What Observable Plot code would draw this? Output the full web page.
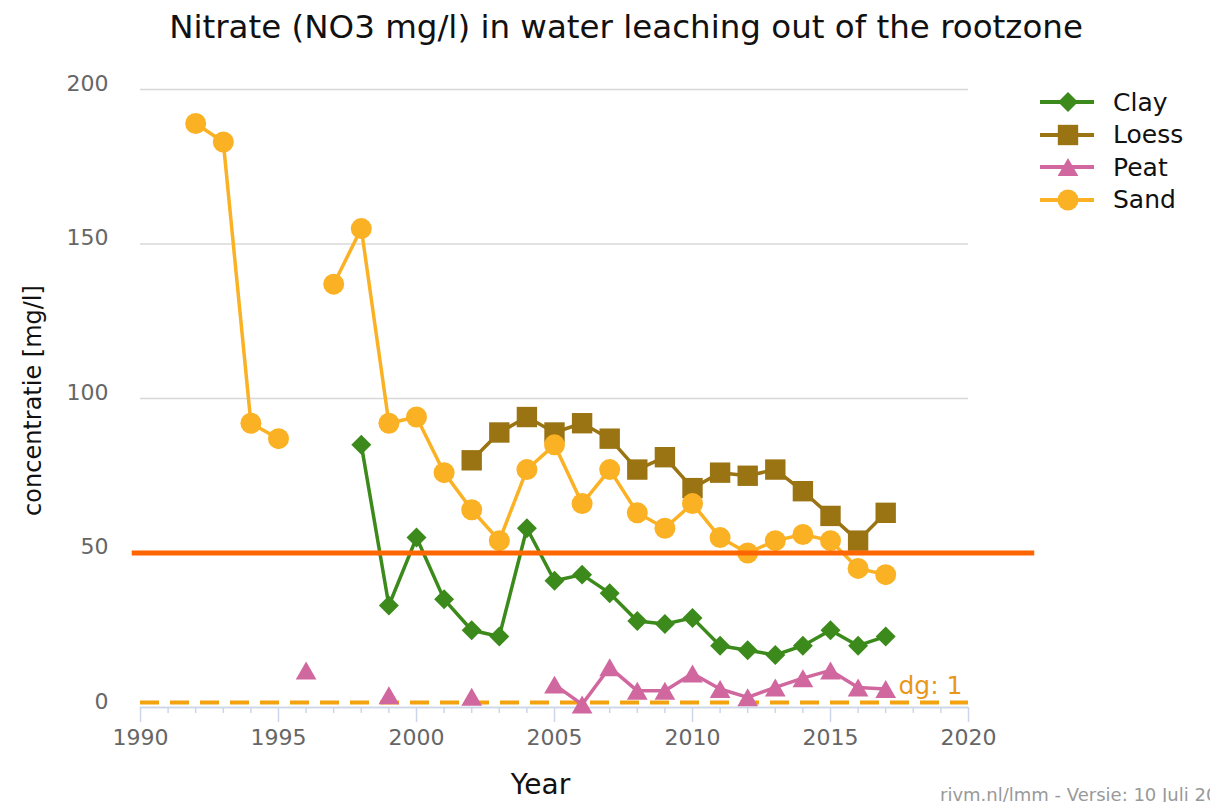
<!DOCTYPE html>
<html>
<head>
<meta charset="utf-8">
<script src="https://cdn.jsdelivr.net/npm/d3@7"></script>
<script src="https://cdn.jsdelivr.net/npm/@observablehq/plot@0.6"></script>
<style>
  html, body { margin: 0; padding: 0; background: #fff; }
  body { width: 1210px; height: 802px; overflow: hidden; position: relative; font-family: "DejaVu Sans", Verdana, sans-serif; }
  #title { position: absolute; left: 0; top: 7px; width: 1252px; text-align: center; font-size: 32.5px; color: #111; white-space: nowrap; line-height: 40px; }
  #chart { position: absolute; left: 0; top: 55px; }
  #legend { position: absolute; left: 1038px; top: 86px; }
  .row { display: flex; align-items: center; height: 32.5px; }
  .row span { font-size: 25px; color: #111; margin-left: 17px; }
  #credits { position: absolute; left: 940px; top: 784px; font-size: 18px; color: #999; white-space: nowrap; }
</style>
</head>
<body>
<div id="title">Nitrate (NO3 mg/l) in water leaching out of the rootzone</div>
<div id="chart"></div>
<div id="legend"></div>
<div id="credits">rivm.nl/lmm - Versie: 10 Juli 2019</div>
<script>
// ---- data ----
const years = [1992,1993,1994,1995,1996,1997,1998,1999,2000,2001,2002,2003,2004,2005,2006,2007,2008,2009,2010,2011,2012,2013,2014,2015,2016,2017];
const clay  = [null,null,null,null,null,null,85,33,55,35,25,23,58,41,43,37,28,27,29,20,18.5,17,20,25,20,23];
const loess = [null,null,null,null,null,null,null,null,null,null,80,89,94,89,92,87,77,81,71,76,75,77,70,62,54,63];
const peat  = [null,null,null,null,12,null,null,4,null,null,3.5,null,null,7.4,1,13,5.4,5.4,11,6,3.3,6.5,9.5,12,6.5,6];
const sand  = [189,183,92,87,null,137,155,92,94,76,64,54,77,85,66,77,63,58,66,55,50,54,56,54,45,43];
const seriesNames = ["Clay","Loess","Peat","Sand"];
const seriesColors = ["#3b8a1b","#9a7313","#d0689f","#fbb124"];
const seriesSymbols = ["diamond2","square","triangle","circle"];
const yTicks = [0,50,100,150,200];
const xMajorTicks = [1990,1995,2000,2005,2010,2015,2020];
const xMinorTicks = [1991,1992,1993,1994,1996,1997,1998,1999,2001,2002,2003,2004,2006,2007,2008,2009,2011,2012,2013,2014,2016,2017,2018,2019];
const limitValue = 50;          // norm line
const limitSpan = [1989.7, 2022.4];
const dgValue = 1;              // detection limit
const dgLabel = "dg: 1";

// ---- styling per series ----
const symR = {diamond2: 9, square: 11.5, triangle: 7.7, circle: 10.5};
const symDy = {diamond2: 0, square: 0, triangle: 3, circle: 0};
const seriesValues = [clay, loess, peat, sand];

const rowsFor = (vals) => years.map((yr, i) => ({year: yr, value: vals[i]}));

const seriesMarks = seriesNames.flatMap((name, k) => {
  const rows = rowsFor(seriesValues[k]);
  const sym = seriesSymbols[k];
  return [
    Plot.line(rows, {x: "year", y: "value", stroke: seriesColors[k], strokeWidth: 3.5, curve: "linear"}),
    Plot.dot(rows.filter(d => d.value != null), {x: "year", y: "value", symbol: sym, r: symR[sym], fill: seriesColors[k], dy: symDy[sym]})
  ];
});

const chart = Plot.plot({
  width: 1210,
  height: 747,
  marginTop: 34,
  marginBottom: 95,
  marginLeft: 140,
  marginRight: 242,
  x: {domain: [1990, 2020]},
  y: {domain: [0, 200]},
  style: {fontFamily: "'DejaVu Sans', Verdana, sans-serif", background: "white", overflow: "visible"},
  marks: [
    Plot.gridY(yTicks, {stroke: "#d8d8d8", strokeOpacity: 1, strokeWidth: 1.5}),
    Plot.axisY(yTicks, {tickSize: 0, tickPadding: 32, fontSize: 22, fill: "#666", dy: -6, label: null}),
    Plot.axisX(xMinorTicks, {tickSize: 6, stroke: "#ccd6eb", strokeWidth: 1.5, tickFormat: () => "", label: null}),
    Plot.axisX(xMajorTicks, {tickSize: 15, tickPadding: 7, stroke: "#ccd6eb", strokeWidth: 1.5, fill: "#666", fontSize: 22, tickFormat: d => String(d), label: null}),
    Plot.ruleY([0], {stroke: "#ccd6eb", strokeWidth: 1.5}),
    Plot.ruleY([dgValue], {x1: 1990, x2: 2020, dy: -2, stroke: "#f2a30f", strokeWidth: 4, strokeDasharray: "19,11"}),
    ...seriesMarks,
    Plot.text([dgLabel], {x: 2020, y: dgValue, textAnchor: "end", dx: -6, dy: -18, fontSize: 25, fill: "#e8971a"}),
    Plot.ruleY([limitValue], {x1: limitSpan[0], x2: limitSpan[1], stroke: "#ff6600", strokeWidth: 5}),
    Plot.text(["Year"], {frameAnchor: "bottom", textAnchor: "middle", lineAnchor: "middle", dx: -14, dy: 78, fontSize: 28, fill: "#111"}),
    Plot.text(["concentratie [mg/l]"], {frameAnchor: "left", textAnchor: "middle", lineAnchor: "middle", rotate: -90, dx: -107, dy: 2, fontSize: 24, fill: "#111"})
  ]
});
document.getElementById("chart").appendChild(chart);

// ---- legend ----
const legend = d3.select("#legend");
seriesNames.forEach((name, k) => {
  const row = legend.append("div").attr("class", "row");
  const svg = row.append("svg").attr("width", 58).attr("height", 30);
  svg.append("line").attr("x1", 2).attr("x2", 56).attr("y1", 15).attr("y2", 15)
    .attr("stroke", seriesColors[k]).attr("stroke-width", 4);
  const sym = seriesSymbols[k];
  const type = {diamond2: d3.symbolDiamond2, square: d3.symbolSquare, triangle: d3.symbolTriangle, circle: d3.symbolCircle}[sym];
  const r = symR[sym];
  svg.append("path").attr("d", d3.symbol(type, Math.PI * r * r)())
    .attr("transform", `translate(30,${15 + symDy[sym]})`)
    .attr("fill", seriesColors[k]);
  row.append("span").text(name);
});
</script>
</body>
</html>
